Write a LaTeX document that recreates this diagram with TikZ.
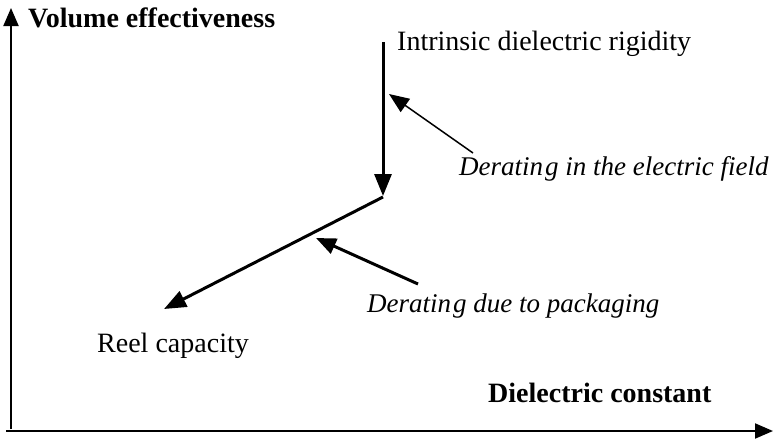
\documentclass[tikz,border=0pt]{standalone}
\usepackage{fontspec}
\setmainfont{Liberation Serif}
\usetikzlibrary{arrows.meta}
\begin{document}
\begin{tikzpicture}[x=1pt,y=-1pt,
  lbl/.style={anchor=base west,inner sep=0pt,font=\fontsize{28}{31}\selectfont},
  blbl/.style={lbl,font=\fontsize{28}{31}\selectfont\bfseries},
  ilbl/.style={lbl,font=\fontsize{27}{30}\selectfont\itshape},
  axis/.style={line width=2pt,-{Triangle[length=18pt,width=15pt]}},
  main/.style={line width=3pt,-{Triangle[length=22pt,width=17pt]}},
  thin/.style={line width=1.5pt,-{Triangle[length=20pt,width=16pt]}},
  mid/.style={line width=3pt,-{Triangle[length=20pt,width=16pt]}}]
\useasboundingbox (0,0) rectangle (780,440);
\coordinate (o) at (11,431);
\coordinate (ytip) at (11,8);
\coordinate (xtip) at (773,431);
\draw[axis] ([xshift=-5pt]o) -- (xtip);
\draw[axis] ([yshift=2pt]o) -- (ytip);
\node[blbl] (yl) at (28,27) {Volume effectiveness};
\node[blbl] (xl) at (488,402) {Dielectric constant};
\node[lbl] (ir) at (397,50) {Intrinsic dielectric rigidity};
\node[ilbl] (ef) at (459,175) {Deratin\kern2pt g in the electric field};
\node[ilbl] (pk) at (367,312) {Deratin\kern2pt g due to packaging};
\node[lbl] (rc) at (97,352) {Reel capacity};
\coordinate (top) at (383,42);
\coordinate (knee) at (383,197);
\coordinate (vtip) at (383,196);
\coordinate (rtip) at (164,309);
\draw[main] (top) -- (vtip);
\draw[main] (knee) -- (rtip);
\coordinate (efs) at (473,153);
\coordinate (eft) at (389,94);
\draw[thin] (efs) -- (eft);
\coordinate (pks) at (418,284);
\coordinate (pkt) at (316,238);
\draw[mid] (pks) -- (pkt);
\end{tikzpicture}
\end{document}
